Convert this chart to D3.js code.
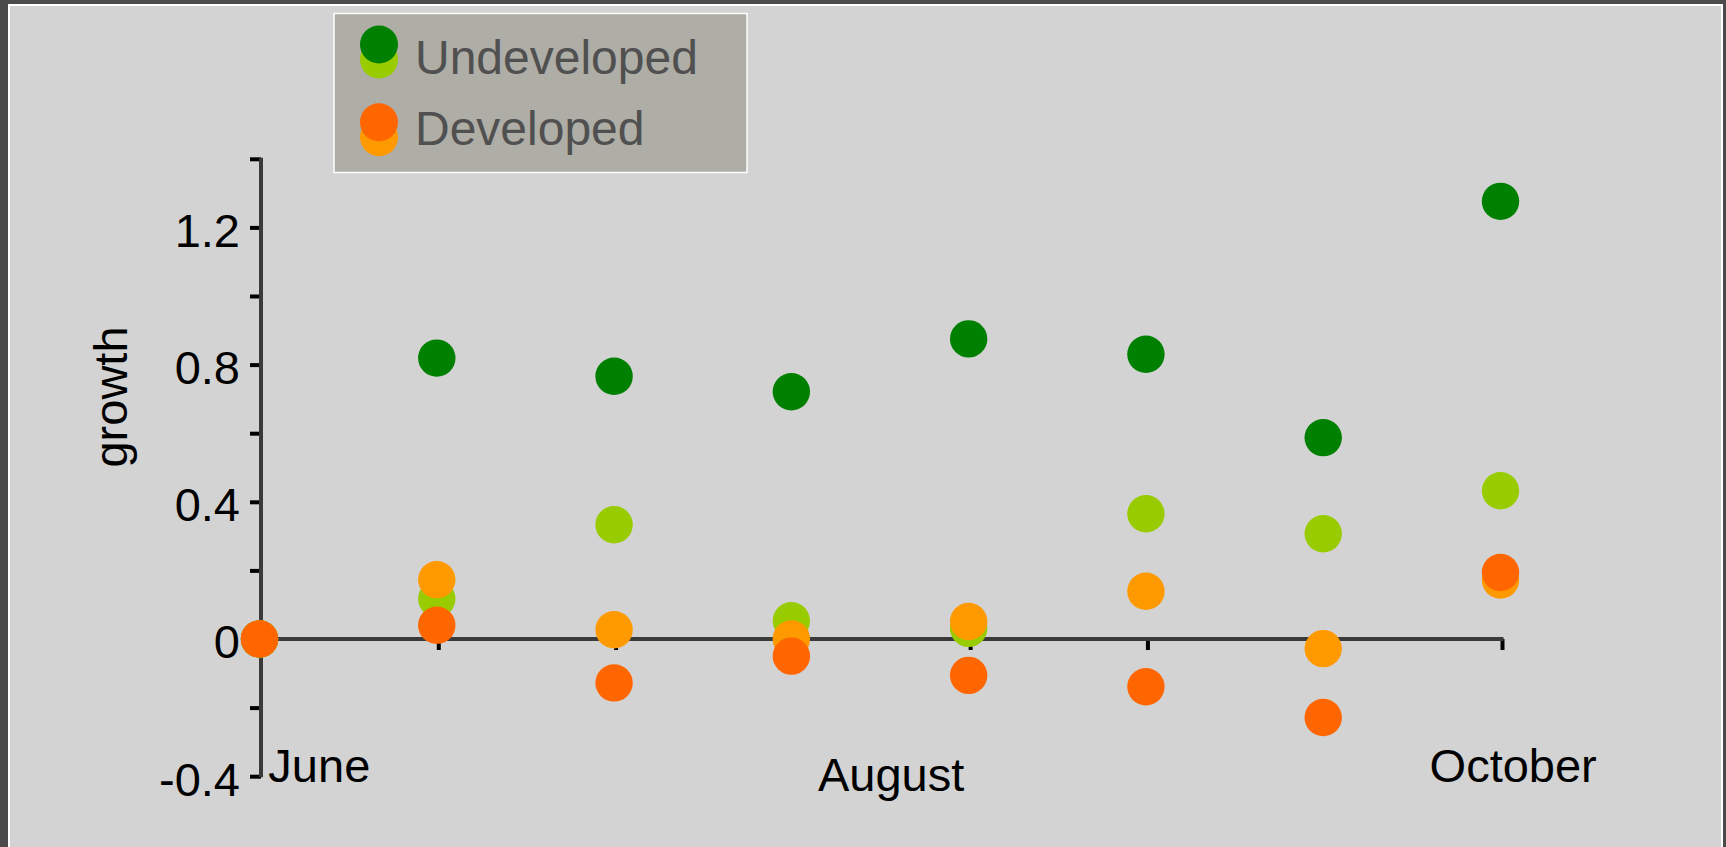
<!DOCTYPE html>
<html>
<head>
<meta charset="utf-8">
<script src="https://cdn.jsdelivr.net/npm/d3@7"></script>
<style>
  html, body { margin: 0; padding: 0; background: #4b4b4b; overflow: hidden; }
  svg { display: block; font-family: "Liberation Sans", Arial, sans-serif; }
</style>
</head>
<body>
<svg id="chart" width="1726" height="847"></svg>
<script>
// ---- data ----
const points = [0, 1, 2, 3, 4, 5, 6, 7];                 // observation index
const undevelopedA = [0, 0.819, 0.766, 0.721, 0.875, 0.830, 0.587, 1.276]; // dark green
const undevelopedB = [0, 0.117, 0.333, 0.053, 0.031, 0.365, 0.307, 0.432]; // light green
const developedB   = [0, 0.173, 0.027, 0.000, 0.051, 0.139, -0.028, 0.172]; // light orange
const developedA   = [0, 0.040, -0.128, -0.050, -0.106, -0.139, -0.229, 0.194]; // dark orange
const monthLabels = ["June", "August", "October"];
const monthAt     = [0.05, 3.15, 6.6];        // position along the observation index
const monthLevel  = [-0.417, -0.444, -0.418]; // baseline level in growth units
const yTicks = [-0.4, -0.2, 0, 0.2, 0.4, 0.6, 0.8, 1.0, 1.2, 1.4];
const yLabelTicks = ["-0.4", "0", "0.4", "0.8", "1.2"];
const legendNames = ["Undeveloped", "Developed"];

const colors = {
  undevelopedA: "#008000", undevelopedB: "#99cc00",
  developedA: "#ff6600", developedB: "#ff9900"
};

const svg = d3.select("#chart");

// panel
svg.append("rect").attr("x", 9).attr("y", 5).attr("width", 1713).attr("height", 900)
  .attr("fill", "#d3d3d3").attr("stroke", "#ffffff").attr("stroke-width", 2);

const x = d3.scaleLinear().domain([0, 7]).range([259.5, 1500.5]);
const y = d3.scaleLinear().domain([-0.4, 1.4]).range([776.2, 158.8]);
const axisX = 261;

// y axis
const yAxis = d3.axisLeft(y).tickValues(yTicks).tickSize(11).tickPadding(10)
  .tickFormat(d => {
    const s = String(+d.toFixed(1));
    return yLabelTicks.includes(s) ? s : "";
  });
const gy = svg.append("g").attr("transform", `translate(${axisX},0)`).call(yAxis);
gy.select(".domain").remove();
gy.selectAll(".tick line").attr("stroke", "#000").attr("stroke-width", 4);
gy.selectAll(".tick text").attr("font-size", 47).attr("fill", "#000").attr("dy", "0.4em");
svg.append("line").attr("x1", axisX).attr("x2", axisX)
  .attr("y1", y(1.4) - 1).attr("y2", y(-0.4) + 1)
  .attr("stroke", "#3a3a3a").attr("stroke-width", 4);

// x axis (zero line with ticks)
const xAxis = d3.axisBottom(x).tickValues(points.slice(1)).tickSize(11).tickFormat("");
const gx = svg.append("g").attr("transform", `translate(0,${y(0)})`).call(xAxis);
gx.select(".domain").remove();
gx.selectAll(".tick line").attr("stroke", "#000").attr("stroke-width", 4).attr("transform", "translate(1.5,0)");
svg.append("line").attr("x1", axisX).attr("x2", x(7) + 3)
  .attr("y1", y(0)).attr("y2", y(0))
  .attr("stroke", "#3a3a3a").attr("stroke-width", 4);

// month labels
svg.append("g").selectAll("text").data(monthLabels).join("text")
  .attr("x", (d, i) => x(monthAt[i]))
  .attr("y", (d, i) => y(monthLevel[i]))
  .attr("font-size", 47).attr("fill", "#000")
  .text(d => d);

// y title
svg.append("text").attr("transform", `translate(127,397) rotate(-90)`)
  .attr("text-anchor", "middle").attr("font-size", 47).attr("fill", "#000")
  .text("growth");

// points
const r = 18.7;
const series = [
  { vals: undevelopedB, color: colors.undevelopedB },
  { vals: undevelopedA, color: colors.undevelopedA },
  { vals: developedB, color: colors.developedB },
  { vals: developedA, color: colors.developedA }
];
series.forEach(s => {
  svg.append("g").selectAll("circle").data(points).join("circle")
    .attr("cx", i => x(i)).attr("cy", i => y(s.vals[i])).attr("r", r)
    .attr("fill", s.color);
});

// legend
const lg = svg.append("g");
lg.append("rect").attr("x", 334).attr("y", 13.5).attr("width", 413).attr("height", 159)
  .attr("fill", "#aeada6").attr("stroke", "#ffffff").attr("stroke-width", 1.5);
const legendItems = [
  { name: legendNames[0], top: colors.undevelopedA, bottom: colors.undevelopedB, cy: 44.5, base: 74.3 },
  { name: legendNames[1], top: colors.developedA, bottom: colors.developedB, cy: 122.3, base: 145 }
];
legendItems.forEach(it => {
  lg.append("circle").attr("cx", 379).attr("cy", it.cy + 15).attr("r", 19).attr("fill", it.bottom);
  lg.append("circle").attr("cx", 379).attr("cy", it.cy).attr("r", 19).attr("fill", it.top);
  lg.append("text").attr("x", 415).attr("y", it.base).attr("font-size", 48)
    .attr("fill", "#505050").text(it.name);
});
</script>
</body>
</html>
